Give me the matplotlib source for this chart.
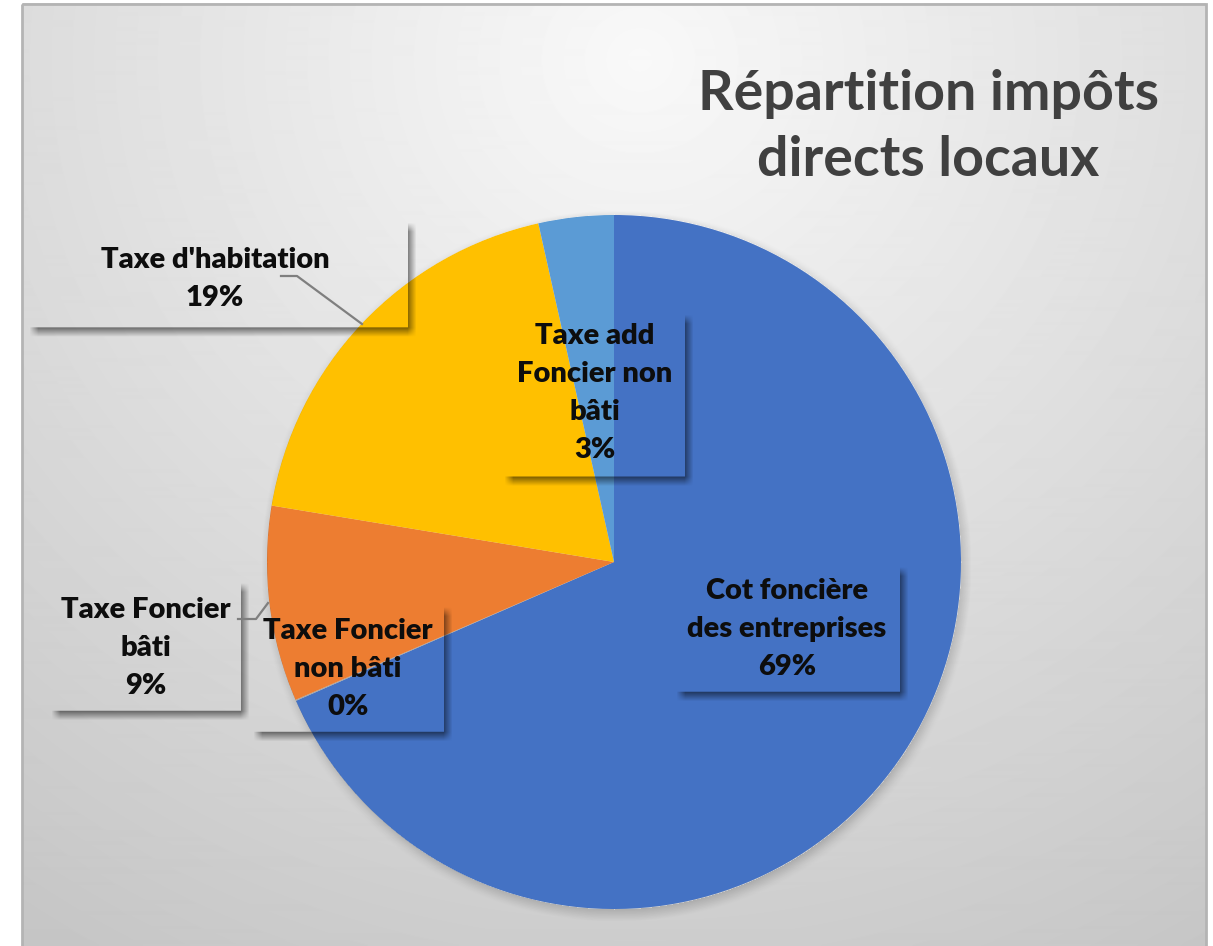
import numpy as np
import matplotlib
matplotlib.use("Agg")
import matplotlib.pyplot as plt
from matplotlib.patches import Rectangle

# ---- données
categories = ["Cot foncière\ndes entreprises", "Taxe Foncier\nnon bâti",
              "Taxe Foncier\nbâti", "Taxe d'habitation",
              "Taxe add\nFoncier non\nbâti"]
values = [68.45, 0.05, 9.1, 18.9, 3.5]
pct_labels = ["69%", "0%", "9%", "19%", "3%"]
colors = ["#4472C4", "#A5A5A5", "#ED7D31", "#FFC000", "#5B9BD5"]
title = "Répartition impôts\ndirects locaux"

W, H = 1213, 946
fig = plt.figure(figsize=(W / 100, H / 100), dpi=100)
fig.patch.set_facecolor("white")

# fond dégradé (coordonnées pixels)
bg = fig.add_axes([0, 0, 1, 1])
bg.set_xlim(0, W)
bg.set_ylim(H, 0)
bg.axis("off")
gx, gy = np.meshgrid(np.arange(22, 1206), np.arange(4, H))
d = np.sqrt(((gx - 640) / 950.0) ** 2 + ((gy - 60) / 900.0) ** 2)
grad = 0.975 - 0.2 * np.clip(d, 0, 1.15) / 1.15
bg.imshow(grad, cmap="gray", vmin=0, vmax=1, extent=[22, 1206, H, 4],
          interpolation="bilinear", zorder=0)
bg.add_patch(Rectangle((22, 4), 1184, H, fill=False, ec="#b4b4b4", lw=2, zorder=1))

# camembert
cx, cy, r = 614, 562, 347
ax = fig.add_axes([(cx - r) / W, (H - cy - r) / H, 2 * r / W, 2 * r / H])
ax.pie(values, colors=colors, startangle=90, counterclock=False,
       wedgeprops=dict(linewidth=0))
ax.set_xlim(-1, 1)
ax.set_ylim(-1, 1)
ax.axis("off")

# calque du dessus : ombres, étiquettes, titre
ov = fig.add_axes([0, 0, 1, 1])
ov.set_xlim(0, W)
ov.set_ylim(H, 0)
ov.axis("off")
ov.patch.set_alpha(0)


def blur(a, rad):
    k = np.ones(2 * rad + 1) / (2 * rad + 1)
    a = np.apply_along_axis(lambda m: np.convolve(m, k, mode="same"), 0, a)
    a = np.apply_along_axis(lambda m: np.convolve(m, k, mode="same"), 1, a)
    return a


yy, xx = np.mgrid[0:H, 0:W]
shadow = np.zeros((H, W))

# ombre du camembert
circ = ((xx - cx) ** 2 + (yy - cy) ** 2) <= r ** 2
circ_s = ((xx - cx - 2) ** 2 + (yy - cy - 4) ** 2) <= r ** 2
shadow += 0.22 * blur(circ_s.astype(float), 8) * (~circ)

# boîtes des étiquettes (x0, y0, x1, y1) en pixels
boxes = [(677, 567, 899, 691), (254, 607, 443, 731), (52, 583, 240, 710),
         (30, 223, 407, 327), (505, 315, 684, 476)]
centers = [(787, 629), (348, 669), (146, 648), (215, 279), (595, 393)]
for (x0, y0, x1, y1) in boxes:
    inside = (xx >= x0) & (xx <= x1) & (yy >= y0) & (yy <= y1)
    sh = (xx >= x0 + 4) & (xx <= x1 + 4) & (yy >= y0 + 5) & (yy <= y1 + 5)
    shadow = np.maximum(shadow, 0.5 * blur(sh.astype(float), 4) * (~inside))

rgba = np.zeros((H, W, 4))
rgba[..., 3] = np.clip(shadow, 0, 1)
ov.imshow(rgba, extent=[0, W, H, 0], interpolation="bilinear", zorder=1)

# lignes de rappel
ov.plot([281, 297, 362], [276, 276, 324], color="#7f7f7f", lw=1.6, zorder=2)
ov.plot([238, 256, 268], [619, 619, 603], color="#7f7f7f", lw=1.6, zorder=2)

for name, pct, (tx, ty) in zip(categories, pct_labels, centers):
    ov.text(tx, ty, name + "\n" + pct, ha="center", va="center",
            fontsize=21, fontweight="heavy", family="Lato", color="#0d0d0d",
            linespacing=1.58, zorder=3)

ov.text(928, 127, title, ha="center", va="center", fontsize=40,
        fontweight="bold", family="Lato", color="#404040",
        linespacing=1.4, zorder=3)

fig.savefig("out.png", dpi=100)
